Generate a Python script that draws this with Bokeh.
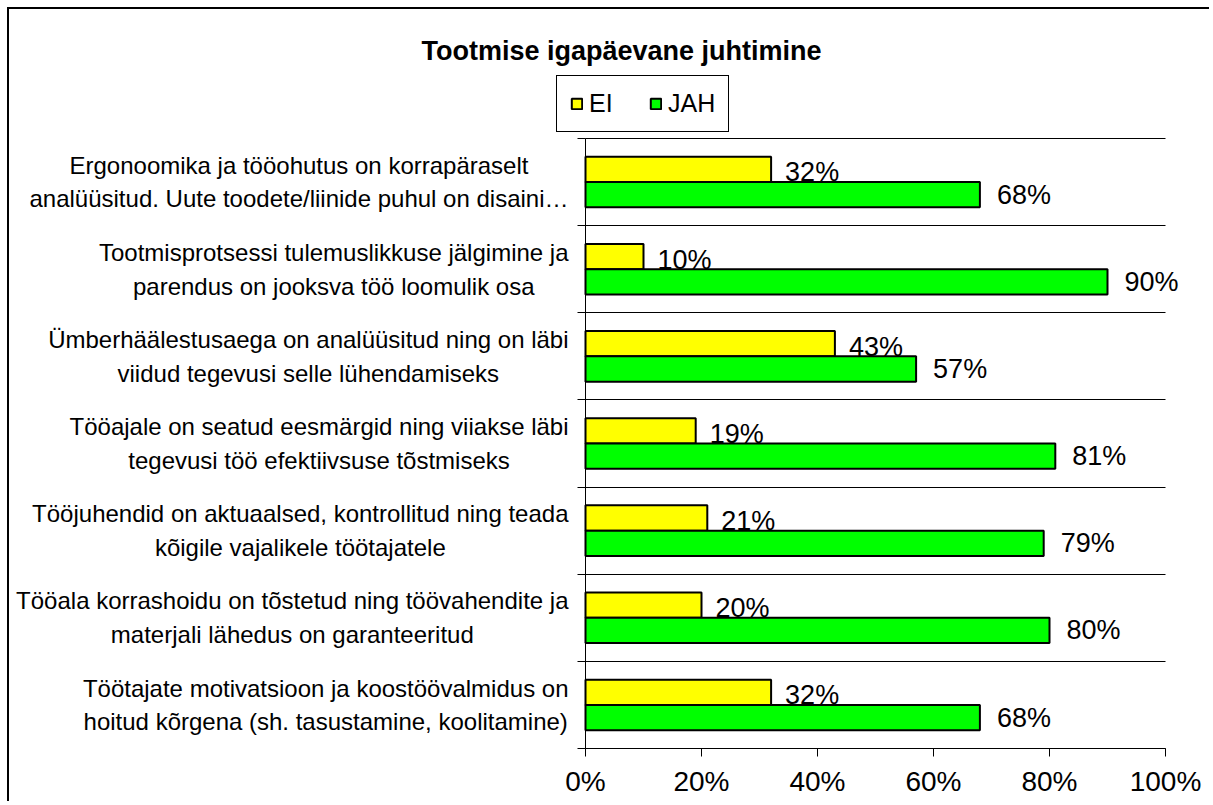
from bokeh.plotting import figure
from bokeh.models import (ColumnDataSource, Range1d, FixedTicker, Label, LabelSet,
                          Legend, LegendItem, PrintfTickFormatter)
from bokeh.core.properties import value
from bokeh.embed import file_html
from bokeh.resources import INLINE

title_text = "Tootmise igapäevane juhtimine"
categories = [
    "Ergonoomika ja tööohutus on korrapäraselt\nanalüüsitud. Uute toodete/liinide puhul on disaini…",
    "Tootmisprotsessi tulemuslikkuse jälgimine ja\nparendus on jooksva töö loomulik osa",
    "Ümberhäälestusaega on analüüsitud ning on läbi\nviidud tegevusi selle lühendamiseks",
    "Tööajale on seatud eesmärgid ning viiakse läbi\ntegevusi töö efektiivsuse tõstmiseks",
    "Tööjuhendid on aktuaalsed, kontrollitud ning teada\nkõigile vajalikele töötajatele",
    "Tööala korrashoidu on tõstetud ning töövahendite ja\nmaterjali lähedus on garanteeritud",
    "Töötajate motivatsioon ja koostöövalmidus on\nhoitud kõrgena (sh. tasustamine, koolitamine)",
]
series_names = ["EI", "JAH"]
ei = [32, 10, 43, 19, 21, 20, 32]
jah = [68, 90, 57, 81, 79, 80, 68]
x_ticks = [0, 20, 40, 60, 80, 100]

FONT = "Liberation Sans"
n = len(categories)
centers = [n - i - 0.5 for i in range(n)]
boundaries = list(range(n + 1))
bar_h = 0.29
off = 0.145

# canvas geometry (page pixels); canvas starts at page (9, 9)
W, H = 1202, 794
CX, CY = 9, 9
AX_X0, AX_X1 = 585, 1165     # page x of first / last x tick
AX_Y0, AX_Y1 = 748, 138      # page y of category-axis start / end
sx = (AX_X1 - AX_X0) / (x_ticks[-1] - x_ticks[0])
sy = (AX_Y0 - AX_Y1) / n
x_start = x_ticks[0] - (AX_X0 - CX) / sx
y_start = -(CY + H - AX_Y0) / sy


def rel_x(px):
    return px - CX


def rel_y(py):
    return CY + H - py


p = figure(width=W, height=H,
           x_range=Range1d(x_start, x_start + W / sx),
           y_range=Range1d(y_start, y_start + H / sy),
           output_backend="svg", toolbar_location=None, title=None,
           min_border=0, min_border_left=0, min_border_right=0,
           min_border_top=0, min_border_bottom=0,
           outline_line_color=None, background_fill_color="white", border_fill_color="white",
           styles={"margin-left": "7px", "margin-top": "7px",
                   "border-left": "2px solid black", "border-top": "2px solid black"})

src = ColumnDataSource(dict(
    y_ei=[c + off for c in centers], y_jah=[c - off for c in centers],
    ei=ei, jah=jah,
    ei_lbl=[f"{v}%" for v in ei], jah_lbl=[f"{v}%" for v in jah],
))

# separators
grid_ok = True
try:
    p.ygrid[0].cross_bounds = (x_ticks[0], x_ticks[-1])
except Exception:
    grid_ok = False
p.xgrid.visible = False
if grid_ok:
    p.ygrid.ticker = FixedTicker(ticks=boundaries)
    p.ygrid.grid_line_color = "black"
    p.ygrid.grid_line_alpha = 1.0
else:
    p.ygrid.visible = False
    p.segment(x0=[x_ticks[0]] * len(boundaries), x1=[x_ticks[-1]] * len(boundaries),
              y0=boundaries, y1=boundaries, line_color="black", line_width=1)

r1 = p.hbar(y="y_ei", left=0, right="ei", height=bar_h, source=src,
            fill_color="#FFFF00", line_color="black", line_width=2)
r2 = p.hbar(y="y_jah", left=0, right="jah", height=bar_h, source=src,
            fill_color="#00FF00", line_color="black", line_width=2)

for col, ycol, lcol, xo, yo in [("ei", "y_ei", "ei_lbl", 14, -3), ("jah", "y_jah", "jah_lbl", 17, 0)]:
    p.add_layout(LabelSet(x=col, y=ycol, text=lcol, source=src, x_offset=xo, y_offset=yo,
                          text_baseline="middle", text_align="left",
                          text_font=value(FONT), text_font_size="27px", text_color="black"))

# x axis at y = 0
p.xaxis.fixed_location = 0
p.xaxis.bounds = (x_ticks[0], x_ticks[-1])
p.xaxis.ticker = FixedTicker(ticks=x_ticks)
p.xaxis.formatter = PrintfTickFormatter(format="%d%%")
p.xaxis.major_label_text_font = FONT
p.xaxis.major_label_text_font_size = "28px"
p.xaxis.major_label_text_color = "black"
p.xaxis.major_tick_out = 8
p.xaxis.major_tick_in = 0
p.xaxis.minor_tick_line_color = None
p.xaxis.axis_line_color = "black"
p.xaxis.major_tick_line_color = "black"
p.xaxis.major_label_standoff = 9

# y axis at x = 0, separator ticks at category boundaries
p.yaxis.fixed_location = 0
p.yaxis.bounds = (0, n)
p.yaxis.ticker = FixedTicker(ticks=[], minor_ticks=boundaries)
p.yaxis.major_tick_line_color = None
p.yaxis.minor_tick_out = 8
p.yaxis.minor_tick_in = 0
p.yaxis.minor_tick_line_color = "black"
p.yaxis.axis_line_color = "black"

# category labels
for cat, c in zip(categories, centers):
    p.add_layout(Label(x=rel_x(568), y=c, x_units="screen", y_units="data", text=cat,
                       anchor="center_right", text_align="center",
                       text_font=FONT, text_font_size="24px", text_color="black",
                       text_line_height=1.25))

# title
p.add_layout(Label(x=rel_x(621), y=rel_y(50), x_units="screen", y_units="screen",
                   text=title_text, text_align="center", text_baseline="middle",
                   text_font=FONT, text_font_size="27px", text_font_style="bold",
                   text_color="black"))

legend = Legend(items=[LegendItem(label=series_names[0], renderers=[r1]),
                       LegendItem(label=series_names[1], renderers=[r2])],
                orientation="horizontal", location=(rel_x(556), rel_y(132)),
                label_text_font=FONT, label_text_font_size="25px", label_text_color="black",
                glyph_width=13, glyph_height=13, label_standoff=6, spacing=30,
                padding=13, label_width=30, margin=0,
                border_line_color="black", border_line_width=1, border_line_alpha=1.0,
                background_fill_color="white", background_fill_alpha=1.0)
p.add_layout(legend)

open("out.html", "w").write(file_html(p, INLINE))
